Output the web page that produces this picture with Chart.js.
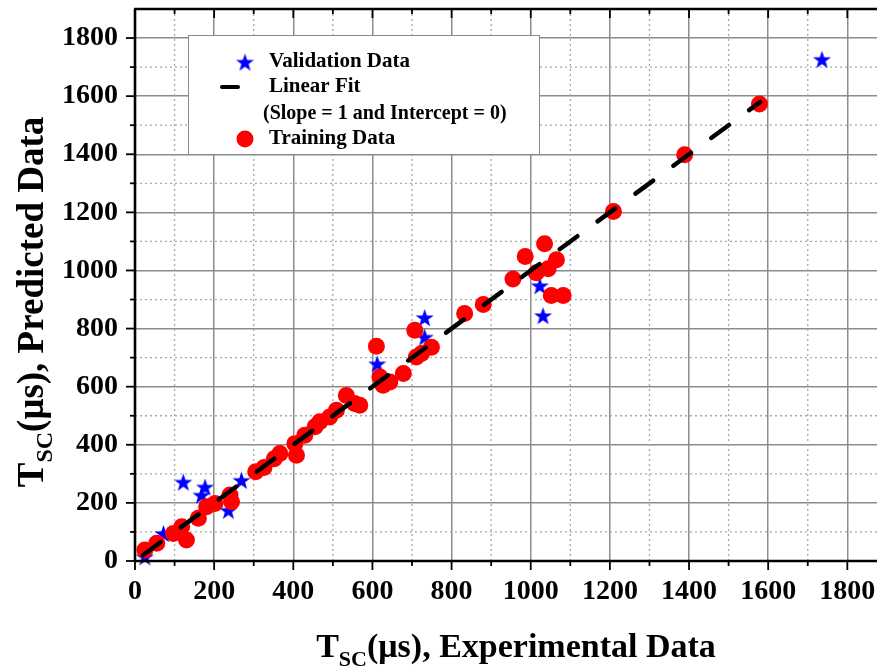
<!DOCTYPE html>
<html>
<head>
<script src="https://cdn.jsdelivr.net/npm/chart.js@4.4.3/dist/chart.umd.min.js"></script>
<style>
    body { margin: 0; background: #fff; }
</style>
</head>
<body>
<canvas id="mychart" width="877" height="672"></canvas>
<script>
    // training points (red circles)
    const trainX = [25, 55, 97, 118, 130, 160, 181, 202, 240, 244, 305, 326, 352, 366, 404, 408, 429, 455, 467, 492, 509, 534, 555, 568,
        610, 619, 627, 644, 678, 707, 711, 724, 749, 833, 880, 955, 986, 1014, 1035, 1044, 1052, 1065, 1082, 1209, 1389, 1578];
    const trainY = [38, 61, 95, 118, 72, 147, 187, 198, 227, 204, 307, 322, 352, 370, 404, 364, 433, 462, 479, 496, 519, 570, 542, 536,
        739, 633, 605, 616, 645, 794, 702, 714, 736, 852, 883, 971, 1048, 992, 1092, 1006, 914, 1037, 914, 1203, 1398, 1573];
    // validation points (blue stars)
    const validX = [25, 72, 122, 168, 177, 236, 269, 612, 732, 732, 1023, 1031, 1736];
    const validY = [15, 95, 272, 227, 255, 175, 278, 679, 771, 838, 948, 845, 1727];
    // y = x reference line
    const fitX = [20, 1580];
    const fitY = [20, 1580];
    const majorTicks = [0, 200, 400, 600, 800, 1000, 1200, 1400, 1600, 1800];
    const minorTicks = [100, 300, 500, 700, 900, 1100, 1300, 1500, 1700];

    const serif = '"Liberation Serif", "Times New Roman", serif';

    function makeStar(R, color) {
        const c = document.createElement('canvas');
        const s = Math.ceil(R * 2) + 2;
        c.width = s; c.height = s;
        const g = c.getContext('2d');
        g.translate(s / 2, s / 2 + R * 0.1);
        g.beginPath();
        for (let i = 0; i < 10; i++) {
            const r = i % 2 ? R * 0.4 : R;
            const a = -Math.PI / 2 + i * Math.PI / 5;
            g.lineTo(r * Math.cos(a), r * Math.sin(a));
        }
        g.closePath();
        g.fillStyle = color;
        g.fill();
        return c;
    }
    const star = makeStar(9.5, '#0000ff');

    function pts(xs, ys) { return xs.map((v, i) => ({ x: v, y: ys[i] })); }

    function line(ctx, x1, y1, x2, y2) {
        ctx.beginPath(); ctx.moveTo(x1, y1); ctx.lineTo(x2, y2); ctx.stroke();
    }

    // title with subscript "SC"
    function subTitle(ctx, rest, cx, cy, size) {
        const big = 'bold ' + size + 'px ' + serif, small = 'bold ' + Math.round(size * 0.65) + 'px ' + serif;
        ctx.font = big; const w1 = ctx.measureText('T').width, w3 = ctx.measureText(rest).width;
        ctx.font = small; const w2 = ctx.measureText('SC').width;
        let x = cx - (w1 + w2 + w3) / 2;
        ctx.textAlign = 'left'; ctx.textBaseline = 'alphabetic'; ctx.fillStyle = '#000';
        ctx.font = big; ctx.fillText('T', x, cy); x += w1;
        ctx.font = small; ctx.fillText('SC', x, cy + size * 0.25); x += w2;
        ctx.font = big; ctx.fillText(rest, x, cy);
    }

    const decor = {
        id: 'decor',
        beforeDatasetsDraw(chart) {
            const { ctx, chartArea: a, scales: { x, y } } = chart;
            ctx.save();
            ctx.strokeStyle = '#a8a8a8';
            ctx.lineWidth = 1.3;
            ctx.setLineDash([2, 3]);
            minorTicks.forEach(v => {
                line(ctx, x.getPixelForValue(v), a.top, x.getPixelForValue(v), a.bottom);
                line(ctx, a.left, y.getPixelForValue(v), a.right, y.getPixelForValue(v));
            });
            ctx.restore();
        },
        afterDraw(chart) {
            const { ctx, chartArea: a, scales: { x, y } } = chart;
            ctx.save();
            ctx.strokeStyle = '#000';
            ctx.lineWidth = 1.8;
            majorTicks.concat(minorTicks).forEach(v => {
                const len = majorTicks.includes(v) ? 9 : 5;
                const px = x.getPixelForValue(v), py = y.getPixelForValue(v);
                line(ctx, px, a.bottom, px, a.bottom + len);
                line(ctx, px, a.top, px, a.top + len);
                line(ctx, a.left - len, py, a.left, py);
            });
            ctx.lineWidth = 2.6;
            line(ctx, a.left, a.top, a.left, a.bottom + 1);
            line(ctx, a.left - 1, a.bottom, a.right, a.bottom);
            line(ctx, a.left - 1, a.top, a.right, a.top);

            // axis titles
            subTitle(ctx, '(\u03bcs), Experimental Data', 516, 657, 34);
            ctx.save();
            ctx.translate(43, 302);
            ctx.rotate(-Math.PI / 2);
            subTitle(ctx, '(\u03bcs), Predicted Data', 0, 0, 37);
            ctx.restore();

            // legend box
            const ds = chart.data.datasets;
            ctx.fillStyle = '#fff';
            ctx.fillRect(188, 35, 351, 119);
            ctx.strokeStyle = '#8a8a8a';
            ctx.lineWidth = 1;
            ctx.strokeRect(188.5, 35.5, 351, 119);
            ctx.font = 'bold 21px ' + serif;
            ctx.fillStyle = '#000';
            ctx.textAlign = 'left';
            ctx.textBaseline = 'middle';
            ctx.drawImage(star, 245 - star.width / 2, 62 - star.height / 2);
            ctx.fillText(ds[2].label, 269, 62);
            ctx.strokeStyle = ds[0].borderColor;
            ctx.lineWidth = 4;
            ctx.lineCap = 'round';
            line(ctx, 222, 87, 238, 87);
            const fl = ds[0].label.split('\n');
            ctx.fillText(fl[0], 269, 87);
            ctx.font = 'bold 20px ' + serif;
            ctx.fillText(fl[1], 263, 114);
            ctx.font = 'bold 21px ' + serif;
            ctx.fillStyle = ds[1].backgroundColor;
            ctx.beginPath(); ctx.arc(245, 139, 8.5, 0, Math.PI * 2); ctx.fill();
            ctx.fillStyle = '#000';
            ctx.fillText(ds[1].label, 269, 139);
            ctx.restore();
        }
    };

    const tickFont = { family: serif, size: 28, weight: 'bold' };
    const plain = v => String(v);

    new Chart(document.getElementById('mychart'), {
        type: 'scatter',
        data: {
            datasets: [
                {
                    type: 'line', label: 'Linear Fit\n(Slope = 1 and Intercept = 0)', data: pts(fitX, fitY),
                    borderColor: '#000', borderWidth: 4.5, borderDash: [22, 25], borderCapStyle: 'round',
                    pointRadius: 0, fill: false
                },
                {
                    label: 'Training Data', data: pts(trainX, trainY), pointStyle: 'circle', pointRadius: 8.5,
                    backgroundColor: '#ff0000', borderWidth: 0, clip: false
                },
                {
                    label: 'Validation Data', data: pts(validX, validY), pointStyle: star, pointRadius: 9.5, clip: false
                }
            ]
        },
        options: {
            responsive: false,
            animation: false,
            layout: { autoPadding: false, padding: { top: 9, right: 0, left: 0, bottom: 0 } },
            plugins: { legend: { display: false }, tooltip: { enabled: false } },
            scales: {
                x: {
                    type: 'linear', min: 0, max: 1875,
                    afterBuildTicks: s => { s.ticks = majorTicks.map(v => ({ value: v })); },
                    afterFit: s => { s.height = 111; s.paddingLeft = 0; s.paddingRight = 0; },
                    grid: { color: '#8c8c8c', lineWidth: 1.5, drawTicks: false },
                    border: { display: false },
                    ticks: { font: tickFont, color: '#000', padding: 14, maxRotation: 0, autoSkip: false, callback: plain }
                },
                y: {
                    type: 'linear', min: 0, max: 1900,
                    afterBuildTicks: s => { s.ticks = majorTicks.map(v => ({ value: v })); },
                    afterFit: s => { s.width = 135; s.paddingTop = 0; s.paddingBottom = 0; },
                    grid: { color: '#8c8c8c', lineWidth: 1.5, drawTicks: false },
                    border: { display: false },
                    ticks: { font: tickFont, color: '#000', padding: 17, autoSkip: false, callback: plain }
                }
            }
        },
        plugins: [decor]
    });
</script>
</body>
</html>
